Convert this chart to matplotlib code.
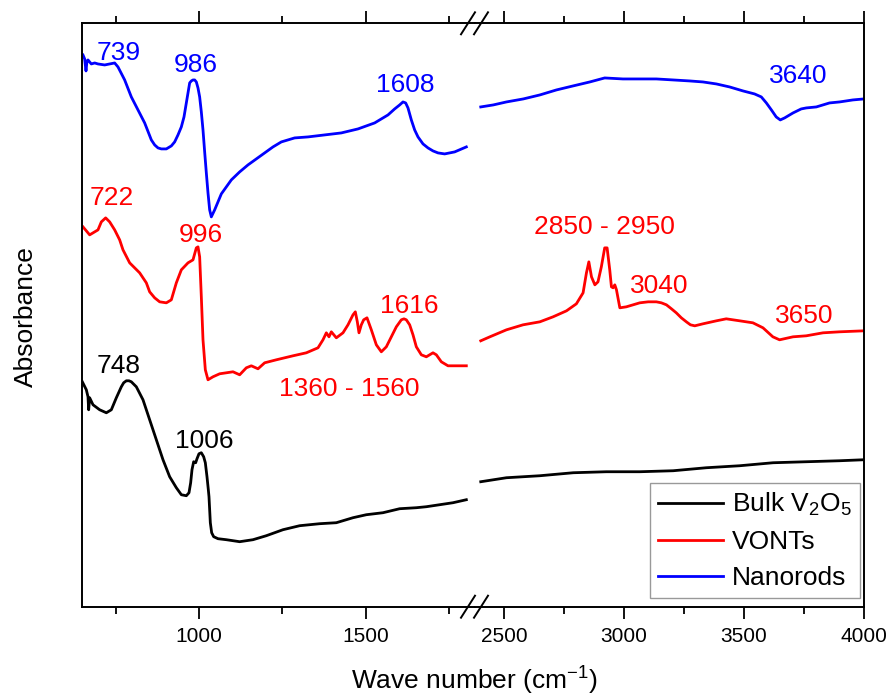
import matplotlib
matplotlib.use("Agg")
import matplotlib.pyplot as plt
from matplotlib.lines import Line2D

plt.rcParams["font.family"] = ["Liberation Sans", "DejaVu Sans"]
plt.rcParams["mathtext.default"] = "regular"

# ---- data (wave number in cm-1, absorbance in arbitrary units) ----
# Nanorods (blue)
nr_wn_low = [652, 657, 661, 664, 667, 677, 687, 697, 717, 747, 757, 777, 797, 817,
             837, 857, 867, 877, 887, 902, 917, 927, 937, 947, 955, 962, 967, 972,
             977, 982, 987, 992, 997, 1002, 1007, 1012, 1017, 1022, 1027, 1032, 1037,
             1047, 1057, 1067, 1082, 1097, 1122, 1147, 1172, 1197, 1222, 1247, 1267,
             1287, 1327, 1377, 1427, 1477, 1527, 1567, 1587, 1602, 1612, 1620, 1627,
             1637, 1647, 1657, 1672, 1687, 1702, 1717, 1737, 1767, 1802]
nr_abs_low = [5.52, 5.48, 5.36, 5.46, 5.47, 5.43, 5.44, 5.43, 5.42, 5.44, 5.40, 5.27,
              5.10, 4.97, 4.84, 4.67, 4.62, 4.59, 4.58, 4.58, 4.61, 4.65, 4.72, 4.80,
              4.90, 5.04, 5.14, 5.24, 5.26, 5.27, 5.27, 5.25, 5.19, 5.10, 4.95, 4.77,
              4.55, 4.34, 4.14, 3.97, 3.90, 3.97, 4.05, 4.13, 4.20, 4.27, 4.35, 4.42,
              4.48, 4.54, 4.60, 4.65, 4.67, 4.69, 4.70, 4.72, 4.74, 4.78, 4.84, 4.92,
              4.98, 5.02, 5.05, 5.04, 4.99, 4.87, 4.77, 4.70, 4.63, 4.59, 4.56, 4.54,
              4.53, 4.55, 4.60]
nr_wn_high = [2404, 2456, 2511, 2581, 2650, 2719, 2788, 2858, 2920, 2996, 3066, 3135,
              3205, 3274, 3329, 3385, 3440, 3496, 3544, 3572, 3593, 3614, 3634, 3651,
              3669, 3704, 3738, 3759, 3801, 3856, 3898, 3953, 3999]
nr_abs_high = [5.00, 5.02, 5.05, 5.08, 5.12, 5.17, 5.21, 5.25, 5.29, 5.28, 5.28, 5.28,
               5.27, 5.26, 5.25, 5.23, 5.20, 5.16, 5.13, 5.10, 5.04, 4.97, 4.90, 4.87,
               4.89, 4.94, 4.98, 4.99, 5.00, 5.04, 5.05, 5.07, 5.08]

# VONTs (red)
vo_wn_low = [652, 662, 672, 682, 697, 707, 720, 732, 747, 762, 772, 792, 822, 842, 852,
             867, 882, 902, 917, 932, 947, 967, 982, 992, 997, 1002, 1007, 1012, 1019,
             1027, 1042, 1062, 1082, 1102, 1122, 1142, 1157, 1177, 1197, 1232, 1282,
             1322, 1357, 1372, 1382, 1390, 1397, 1412, 1432, 1447, 1462, 1469, 1475,
             1480, 1487, 1494, 1504, 1517, 1532, 1547, 1562, 1577, 1592, 1607, 1615,
             1622, 1632, 1642, 1652, 1667, 1682, 1702, 1712, 1727, 1747, 1772, 1802]
vo_abs_low = [3.80, 3.76, 3.72, 3.74, 3.77, 3.85, 3.89, 3.85, 3.77, 3.67, 3.57, 3.44,
              3.34, 3.24, 3.15, 3.09, 3.05, 3.04, 3.07, 3.24, 3.37, 3.44, 3.47, 3.59,
              3.60, 3.50, 3.10, 2.67, 2.37, 2.27, 2.30, 2.33, 2.34, 2.35, 2.32, 2.39,
              2.41, 2.38, 2.44, 2.47, 2.51, 2.54, 2.59, 2.67, 2.74, 2.70, 2.75, 2.69,
              2.74, 2.82, 2.92, 2.95, 2.85, 2.74, 2.82, 2.87, 2.89, 2.77, 2.62, 2.55,
              2.60, 2.70, 2.80, 2.87, 2.88, 2.87, 2.82, 2.72, 2.60, 2.52, 2.50, 2.54,
              2.52, 2.45, 2.41, 2.41, 2.41]
vo_wn_high = [2404, 2442, 2511, 2580, 2650, 2705, 2761, 2802, 2830, 2844, 2854, 2865,
              2879, 2892, 2906, 2920, 2930, 2941, 2948, 2955, 2962, 2969, 2983, 3010,
              3038, 3066, 3101, 3135, 3156, 3177, 3198, 3218, 3239, 3260, 3277, 3295,
              3329, 3385, 3426, 3482, 3537, 3579, 3620, 3648, 3704, 3759, 3829, 3898,
              3999]
vo_abs_high = [2.66, 2.70, 2.77, 2.82, 2.85, 2.90, 2.96, 3.03, 3.14, 3.34, 3.45, 3.30,
               3.22, 3.25, 3.40, 3.59, 3.59, 3.37, 3.20, 3.19, 3.22, 3.17, 2.99, 3.00,
               3.02, 3.04, 3.05, 3.05, 3.04, 3.02, 2.98, 2.94, 2.89, 2.85, 2.82, 2.81,
               2.83, 2.86, 2.88, 2.86, 2.84, 2.79, 2.70, 2.67, 2.70, 2.71, 2.74, 2.75,
               2.76]

# Bulk V2O5 (black)
bk_wn_low = [650, 662, 667, 669, 672, 682, 702, 722, 737, 752, 767, 774, 782, 790, 797,
             812, 832, 852, 872, 892, 912, 932, 947, 962, 970, 975, 979, 984, 990, 994,
             1000, 1007, 1014, 1019, 1024, 1028, 1030, 1034, 1038, 1044, 1057, 1082,
             1122, 1162, 1202, 1252, 1302, 1362, 1412, 1462, 1502, 1552, 1602, 1652,
             1682, 1722, 1762, 1802]
bk_abs_low = [2.25, 2.17, 2.10, 1.97, 2.09, 2.02, 1.97, 1.94, 1.97, 2.09, 2.20, 2.24,
              2.26, 2.26, 2.25, 2.20, 2.07, 1.87, 1.67, 1.47, 1.30, 1.19, 1.12, 1.11,
              1.14, 1.24, 1.37, 1.45, 1.44, 1.48, 1.53, 1.54, 1.50, 1.44, 1.30, 1.17,
              1.10, 0.84, 0.74, 0.70, 0.68, 0.67, 0.65, 0.67, 0.71, 0.77, 0.81, 0.83,
              0.84, 0.89, 0.92, 0.94, 0.98, 0.99, 1.00, 1.02, 1.04, 1.07]
bk_wn_high = [2404, 2511, 2650, 2789, 2927, 3066, 3205, 3343, 3482, 3621, 3759, 3898, 3999]
bk_abs_high = [1.25, 1.29, 1.31, 1.34, 1.35, 1.35, 1.36, 1.39, 1.41, 1.44, 1.45, 1.46, 1.47]

# peak labels: (text, wave number, absorbance, colour)
labels_low = [("739", 759, 5.47, "blue"), ("986", 989, 5.35, "blue"),
              ("1608", 1619, 5.15, "blue"), ("722", 737, 4.02, "red"),
              ("996", 1004, 3.65, "red"), ("1616", 1632, 2.94, "red"),
              ("1360 - 1560", 1452, 2.11, "red"), ("748", 759, 2.34, "black"),
              ("1006", 1015, 1.59, "black")]
labels_high = [("3640", 3724, 5.24, "blue"), ("2850 - 2950", 2920, 3.73, "red"),
               ("3040", 3149, 3.14, "red"), ("3650", 3752, 2.84, "red")]

fig = plt.figure(figsize=(8.91, 6.97), dpi=100)
ax1 = fig.add_axes([0.0924, 0.1296, 0.4407, 0.8370])
ax2 = fig.add_axes([0.5331, 0.1296, 0.4370, 0.8370])

lw = 2.0
ax1.plot(bk_wn_low, bk_abs_low, color="black", lw=lw)
ax1.plot(vo_wn_low, vo_abs_low, color="red", lw=lw)
ax1.plot(nr_wn_low, nr_abs_low, color="blue", lw=lw)
ax2.plot(bk_wn_high, bk_abs_high, color="black", lw=lw, label="Bulk V$_2$O$_5$")
ax2.plot(vo_wn_high, vo_abs_high, color="red", lw=lw, label="VONTs")
ax2.plot(nr_wn_high, nr_abs_high, color="blue", lw=lw, label="Nanorods")

for txt, x, y, c in labels_low:
    ax1.text(x, y, txt, color=c, fontsize=19, ha="center", va="baseline")
for txt, x, y, c in labels_high:
    ax2.text(x, y, txt, color=c, fontsize=19, ha="center", va="baseline")

ax1.set_xlim(650, 1828)
ax2.set_xlim(2380, 4001)
for ax in (ax1, ax2):
    ax.set_ylim(0, 5.837)
    ax.set_yticks([])
    ax.tick_params(axis="x", which="both", direction="out", top=True, bottom=True,
                   labeltop=False, labelsize=15, width=1.3, pad=6)
    ax.tick_params(axis="x", which="major", length=8.5)
    ax.tick_params(axis="x", which="minor", length=4.8)
    for s in ax.spines.values():
        s.set_linewidth(1.4)

ax1.set_xticks([1000, 1500])
ax1.set_xticks([750, 1250, 1750], minor=True)
ax2.set_xticks([2500, 3000, 3500, 4000])
ax2.set_xticks([2750, 3250, 3750], minor=True)
ax1.spines["right"].set_visible(False)
ax2.spines["left"].set_visible(False)
ax2.tick_params(axis="y", left=False, right=False)

ax1.set_ylabel("Absorbance", fontsize=19)
ax1.yaxis.set_label_coords(-0.113, 0.497)
fig.text(474 / 891, 1 - 690 / 697, "Wave number (cm$^{-1}$)", fontsize=19,
         ha="center", va="baseline")

# axis break marks (figure pixel coordinates)
for yb in (606.7, 23.3):
    for xc in (468, 481):
        fig.add_artist(Line2D([(xc - 7) / 891, (xc + 7) / 891],
                              [1 - (yb + 11) / 697, 1 - (yb - 11) / 697],
                              transform=fig.transFigure, color="black", lw=1.4))

leg = ax2.legend(loc="lower right", bbox_to_anchor=(860 / 891, 1 - 598 / 697),
                 bbox_transform=fig.transFigure, fontsize=19, frameon=True,
                 fancybox=False, edgecolor="#808080", handlelength=2.45,
                 handletextpad=0.35, labelspacing=0.45, borderpad=0.3,
                 borderaxespad=0)
leg.get_frame().set_linewidth(1.0)

fig.savefig("out.png", dpi=100)
